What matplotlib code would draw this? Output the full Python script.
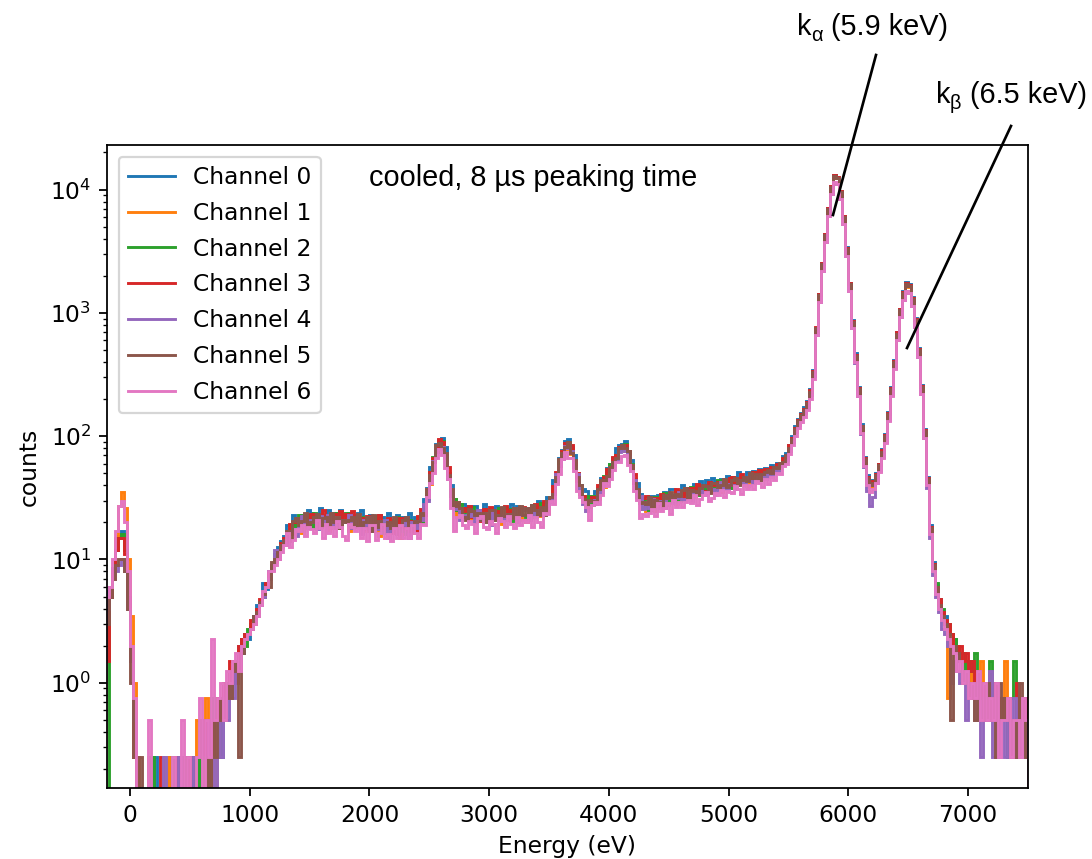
import matplotlib
matplotlib.use("Agg")
import matplotlib.pyplot as plt
import numpy as np
from matplotlib.lines import Line2D

# histogram binning (eV)
bin_start = -200
bin_width = 25

# counts per 25 eV bin, one row per 500 eV starting at -200 eV
ch0_counts = [
    5.5, 6, 8.5, 12, 15.5, 17, 13, 5.5, 1.75, 0.5, 0, 0, 0, 0, 0, 0, 0.25, 0, 0, 0,
    0, 0.25, 0, 0, 0, 0, 0.25, 0, 0, 0.25, 0, 0.5, 0, 0.25, 0.5, 0, 0.75, 0.5, 0.25, 1.0,
    0.75, 1.25, 1.0, 1.5, 2.0, 1.75, 2.5, 2.25, 3.0, 3.5, 4.25, 4.5, 6.5, 5.75, 8.0, 9.0, 11, 12.5, 14, 15.5,
    19, 17, 23, 21, 20, 23, 20, 25, 24, 21, 23, 26, 22, 21, 25, 20, 24, 23, 25, 22,
    21, 24, 23, 19, 24, 25, 21, 20, 23, 22, 18, 23, 22, 20, 24, 21, 19, 23, 20, 22,
    20.5, 24, 18.5, 22, 20.5, 21, 31, 38, 56, 66, 87, 93, 97, 81, 49, 40, 31, 25, 28, 28,
    27, 22, 27, 27, 24, 25, 28, 23, 24, 26, 27, 22, 25, 26, 23, 28, 25, 27, 23, 26,
    25, 26, 27.5, 25, 30, 26.5, 28, 32, 30, 44, 49, 66, 77, 91, 94, 82, 71, 46, 40, 37,
    36, 29, 31, 36, 38, 46, 46, 55, 59, 66, 80, 84, 86, 91, 76, 64, 45, 42, 34, 28,
    27, 33, 32.5, 32, 33.5, 30.5, 35, 30, 37, 37.5, 33, 36, 40, 36, 38, 36, 41, 38, 43.5, 39,
    44, 40, 46, 43, 40.5, 45, 40.5, 47.5, 46.5, 43, 46.5, 51.5, 46.5, 46, 51.5, 46, 52, 51, 54.5, 51.5,
    55, 52, 58, 56, 61, 60, 69, 73, 85, 100, 121, 139, 155, 171, 194, 240, 345, 760, 1420, 2550,
    4400, 7150, 10700, 13200, 12700, 9700, 6100, 3400, 1750, 880, 470, 250, 126, 68, 48, 42, 44, 50, 60, 78,
    104, 156, 250, 415, 700, 1080, 1500, 1780, 1700, 1340, 905, 515, 258, 114, 47, 19, 9.5, 6.25, 4.75, 3.75,
    3.5, 2.75, 2.5, 2.25, 2.0, 1.5, 1.75, 1.25, 1.5, 1.0, 1.25, 0.75, 1.0, 0.5, 0.75, 1.0, 0.5, 0.75, 0.25, 0.5,
    0.75, 0.25, 0.5, 0.5, 0.25, 0.75, 0.25, 0.5,
]

ch1_counts = [
    4, 5, 8, 15, 27, 35, 26, 10, 3.5, 1.0, 0.25, 0, 0, 0, 0.25, 0, 0, 0, 0, 0,
    0.25, 0, 0, 0.25, 0, 0, 0, 0.25, 0, 0, 0.5, 0.25, 0, 0.75, 0.25, 0.5, 0, 0.75, 0.5, 0.5,
    1.0, 0.75, 1.5, 1.25, 1.75, 2.0, 2.25, 2.5, 2.75, 3.25, 3.75, 4.5, 5.0, 6.0, 7.0, 8.5, 9.5, 11, 12.5, 14,
    15.5, 19, 16, 19.5, 18, 16.5, 22, 20, 23, 18, 21.5, 19.5, 22.5, 23, 17, 21, 20, 18, 21, 22,
    21, 17, 22, 21.5, 18.5, 19, 22, 17, 18, 20, 20.5, 15.5, 18.5, 19, 16, 21, 17, 19, 15, 18,
    17, 18, 19, 16.5, 22, 20, 25, 37, 41, 66, 74, 86, 79, 67, 49.5, 33, 31, 22, 24, 25,
    26, 20.5, 21.5, 23, 22, 24, 20, 23, 22, 21, 25, 22, 19.5, 24.5, 21.5, 23.5, 21, 26, 24, 21,
    20, 25, 24.5, 24, 25, 22.5, 26, 24, 32, 38, 42, 58, 76, 79, 83, 72, 62, 43.5, 39, 29.5,
    31.5, 26.5, 32.5, 30.5, 31, 40, 39, 50.5, 54, 57, 67, 79, 78.5, 76, 71.5, 52, 43.5, 33.5, 31.5, 25.5,
    24.5, 28.5, 28, 24.5, 31, 33, 28.5, 27.5, 32, 31, 28, 34.5, 34, 32, 37, 34, 32, 37.5, 34.5, 37,
    36.5, 41, 35, 39, 37, 35, 42, 40, 44, 38, 43, 41, 45.5, 47, 39.5, 45.5, 45, 43, 47.5, 49.5,
    46, 51, 48, 53, 52, 59, 58, 69, 76, 92, 112, 128, 144, 159, 180, 225, 325, 740, 1390, 2480,
    4280, 6980, 10500, 13000, 12500, 9450, 5950, 3280, 1690, 845, 445, 238, 118, 64, 45, 39, 41, 47, 57, 74,
    98, 147, 236, 394, 670, 1035, 1430, 1700, 1630, 1285, 870, 494, 246, 108, 44, 17.5, 8.75, 6.0, 4.25, 3.5,
    3.0, 0.75, 2.25, 2.0, 2.0, 1.75, 1.5, 1.25, 1.25, 1.0, 1.25, 0.75, 1.5, 0.75, 1.0, 0.5, 1.0, 0.5, 0.75, 0.5,
    1.5, 0.75, 0.25, 0.5, 0.5, 0.25, 0.5, 0.25,
]

ch2_counts = [
    0, 5, 8, 12, 15, 16, 12, 5, 1.5, 0.5, 0, 0, 0, 0, 0, 0.25, 0, 0, 0, 0,
    0, 0, 0.25, 0, 0, 0.25, 0, 0, 0.25, 0, 0, 0.25, 0.5, 0, 0.25, 0.75, 0.5, 0.25, 0.75, 0.5,
    1.0, 1.25, 1.5, 1.25, 1.75, 2.25, 2.0, 2.75, 3.0, 3.25, 4.0, 4.25, 5.0, 6.25, 7.5, 8.5, 10, 11.5, 13, 14.5,
    15, 17, 19.5, 17.5, 23, 19.5, 21, 23, 18, 24, 20.5, 22.5, 19.5, 21, 22, 20, 24, 18, 21, 23,
    24, 19, 20, 21.5, 20.5, 22, 18, 21, 20, 19, 22.5, 19.5, 16.5, 21, 18, 20, 17, 22, 20, 17,
    16, 21, 20, 19.5, 21, 20, 27, 31, 51, 68, 75, 88, 91, 68, 50, 33, 31, 25, 28, 23,
    26, 22.5, 26.5, 23, 21, 24, 20, 25, 24, 21, 23, 26, 22.5, 21.5, 25.5, 20.5, 25, 24, 26, 23,
    22, 25, 24.5, 22, 27, 28.5, 25, 26, 32, 37, 43, 63, 75, 83, 90, 78, 59, 50, 36, 33,
    30, 33, 27.5, 33, 34, 36, 47.5, 50, 59, 59.5, 71, 77, 85.5, 86, 68, 59, 44, 32.5, 31, 30.5,
    29, 25, 31.5, 32, 29, 30.5, 34.5, 29, 31, 33.5, 35.5, 30, 34, 35.5, 32.5, 39, 35, 37.5, 33.5, 37.5,
    36.5, 38.5, 40.5, 37, 44, 39, 41, 44, 38, 46.5, 41.5, 45.5, 42, 45, 47, 44.5, 51, 43.5, 48, 51.5,
    52, 49, 54, 52, 58, 57, 65, 68, 82, 95, 115, 132, 148, 163, 185, 230, 330, 750, 1400, 2500,
    4300, 7000, 10500, 13000, 12500, 9500, 6000, 3300, 1700, 850, 450, 240, 120, 65, 46, 40, 42, 48, 58, 75,
    100, 150, 240, 400, 680, 1050, 1450, 1720, 1650, 1300, 880, 500, 250, 110, 45, 18, 9.25, 6.5, 4.5, 4.0,
    3.25, 3.0, 2.5, 2.25, 2.0, 1.75, 1.75, 1.25, 1.5, 1.25, 1.75, 0.75, 1.0, 1.0, 0.75, 1.5, 0.5, 1.0, 0.25, 0.75,
    0.5, 0.25, 0.75, 1.5, 0.5, 0.25, 0.5, 0.5,
]

ch3_counts = [
    1.5, 5, 8, 12, 15, 15, 11, 5, 1.5, 0.25, 0, 0, 0, 0, 0, 0, 0, 0, 0.25, 0,
    0, 0, 0, 0.25, 0, 0, 0, 0, 0.25, 0.25, 0, 0, 0.25, 0.5, 0, 0.25, 0.5, 0.75, 0.5, 1.0,
    0.75, 1.5, 1.25, 1.0, 2.0, 2.25, 2.5, 2.5, 3.25, 3.0, 4.0, 4.75, 5.25, 6.5, 7.75, 9.0, 10.5, 12, 13.5, 15,
    13.5, 19.5, 20, 20, 21.5, 19, 22.5, 18.5, 23.5, 23.5, 20, 22, 25, 20.5, 21.5, 19.5, 23.5, 20.5, 24.5, 20.5,
    23.5, 20.5, 24.5, 21, 19, 21.5, 17.5, 22.5, 21.5, 18.5, 20, 23, 19, 17.5, 21.5, 16.5, 20.5, 19.5, 21.5, 18.5,
    17.5, 20.5, 19.5, 17, 22.5, 25.5, 25.5, 33, 51, 66, 76, 94, 90, 70, 56, 37, 27.5, 29, 24.5, 26,
    24.5, 27, 22, 24.5, 22.5, 20.5, 25.5, 23.5, 26.5, 21.5, 24.5, 22.5, 26, 27, 21, 25, 24.5, 22.5, 25.5, 26.5,
    25.5, 21.5, 27, 28, 24.5, 26.5, 30, 26, 30.5, 39.5, 51, 57, 76, 88, 85, 85, 62, 50, 34, 33,
    29.5, 30, 32, 30.5, 40, 40, 46.5, 54, 52.5, 68, 70.5, 82, 83, 84.5, 75.5, 58.5, 49, 32, 31, 31.5,
    32.5, 27, 28.5, 31.5, 31, 34, 29.5, 33.5, 33, 32.5, 37.5, 34.5, 31.5, 38, 35, 38, 34.5, 41, 39.5, 36,
    35, 42.5, 41.5, 40.5, 42.5, 39, 43.5, 38.5, 46, 46.5, 41.5, 45.5, 49.5, 45, 47, 44.5, 51, 47.5, 53.5, 49,
    54, 50, 56, 53, 59, 58, 66, 69, 84, 97, 117, 135, 151, 166, 189, 235, 337, 765, 1430, 2550,
    4390, 7140, 10700, 13250, 12750, 9690, 6120, 3370, 1735, 867, 459, 245, 122, 66, 47, 41, 43, 49, 59, 77,
    102, 153, 245, 408, 694, 1070, 1480, 1755, 1680, 1325, 898, 510, 255, 112, 46, 18.5, 9.25, 6.0, 4.75, 3.75,
    3.25, 3.0, 2.5, 2.0, 1.75, 2.0, 1.5, 1.75, 1.25, 1.5, 1.0, 1.25, 0.75, 1.0, 0.5, 0.75, 1.0, 0.5, 0.25, 0.75,
    0.5, 0.75, 0.25, 0.5, 1.0, 0.5, 0.25, 0.75,
]

ch4_counts = [
    4, 6, 7, 8, 9, 10, 8, 4, 1.5, 0.5, 0, 0, 0, 0, 0, 0, 0, 0, 0, 0.25,
    0, 0, 0, 0, 0.25, 0, 0, 0, 0, 0.25, 0, 0, 0.25, 0, 0.5, 0.25, 0, 0.5, 0.25, 0.75,
    0.5, 1.0, 0.75, 1.25, 1.5, 2.0, 2.25, 2.5, 2.75, 3.25, 3.5, 4.25, 5.0, 6.0, 7.0, 8.25, 12, 10, 12.5, 14,
    13, 17, 17.5, 15.5, 21, 22.5, 19, 18, 21, 20, 17.5, 22.5, 21.5, 19, 23, 20, 18, 22, 19, 21,
    20, 23, 18, 20.5, 18.5, 16, 21, 19, 22, 17, 19.5, 17.5, 20.5, 21, 15, 19, 18, 16, 19, 20,
    19, 15, 20, 20.5, 18, 21, 28, 30, 44, 63, 78, 79, 82, 68, 45, 37, 26.5, 25.5, 21, 23,
    22, 22.5, 23.5, 20, 25, 21, 22, 24, 19, 25, 21, 23, 20.5, 22.5, 23.5, 21.5, 26, 20, 23, 25,
    26, 21, 22.5, 25, 24, 26, 23, 27.5, 29.5, 34, 49, 57, 65, 83, 80, 76, 56, 49, 36, 28,
    24.5, 30, 30, 30.5, 34.5, 35.5, 44, 43.5, 55, 61.5, 64, 74, 83, 76.5, 68.5, 52.5, 44.5, 32, 32.5, 25.5,
    29, 26, 31, 28, 26, 30, 26, 32.5, 31.5, 28.5, 31.5, 35.5, 31, 30.5, 35.5, 30, 35.5, 34.5, 37.5, 34.5,
    33.5, 38, 37, 33.5, 40.5, 42.5, 37.5, 37, 41, 40.5, 37, 44.5, 43.5, 41.5, 47, 43.5, 42, 47.5, 44.5, 48,
    45, 49, 47, 53, 51, 57, 58, 64, 76, 90, 108, 124, 139, 153, 173, 215, 305, 660, 1230, 2200,
    3780, 6160, 9240, 11400, 11000, 8360, 5280, 2900, 1500, 750, 395, 210, 104, 56, 36, 27, 32, 42, 52, 68,
    90, 134, 214, 355, 600, 925, 1275, 1510, 1450, 1145, 775, 440, 220, 96, 38, 15, 7.5, 5.0, 3.75, 2.75,
    2.5, 2.0, 1.0, 1.5, 1.25, 1.0, 1.25, 0.5, 0.75, 1.0, 0.5, 0.75, 0.25, 0.5, 0.75, 1.25, 0.25, 0.5, 0.25, 0.5,
    0.25, 0.5, 0.25, 0.75, 0.25, 0.5, 0.25, 0.5,
]

ch5_counts = [
    3, 5, 7, 9, 10, 10, 8, 4, 1, 0.25, 0, 0.25, 0, 0, 0, 0, 0, 0, 0, 0,
    0, 0, 0, 0, 0, 0, 0.25, 0, 0, 0, 0.25, 0.5, 0, 0.25, 0, 0.5, 0.25, 0.5, 0.75, 0.5,
    1.0, 0.75, 1.25, 1.5, 0.25, 1.75, 2.25, 2.5, 2.75, 3.5, 3.75, 4.5, 5.25, 6.0, 6.0, 9.5, 10, 11.5, 13, 14.5,
    17, 14, 20.5, 21.5, 19, 20.5, 24, 19, 20, 22, 23.5, 18.5, 21.5, 22, 19, 24, 20, 22, 18, 21,
    20, 21, 22, 18.5, 23.5, 19, 20, 22, 17, 23, 18.5, 20.5, 17.5, 19, 20, 18, 22, 16, 19, 21,
    22, 17, 18, 20.5, 20, 24, 23, 37, 48, 62, 85, 88, 80, 73, 48, 37, 27, 29, 26, 22,
    21, 25.5, 24.5, 23, 24, 21, 24, 20, 25, 25, 21, 23, 26.5, 22.5, 23.5, 21.5, 26, 23, 27, 23,
    26, 23, 27.5, 25, 23, 26.5, 23, 30, 32, 34, 47, 65, 73, 81, 89, 73, 64, 47, 40, 31,
    27.5, 30.5, 30, 28, 37.5, 44, 43.5, 47.5, 56.5, 62, 66, 80.5, 84.5, 80.5, 76, 58, 41.5, 37.5, 28.5, 29.5,
    28, 32, 26.5, 30.5, 29, 27, 33.5, 31.5, 35.5, 30, 34, 32.5, 36.5, 38, 31.5, 36.5, 36, 34, 38, 40,
    39.5, 34.5, 41.5, 42, 38.5, 40.5, 45, 39, 40.5, 44, 45.5, 40, 44.5, 46.5, 43, 50, 45.5, 49, 44, 49,
    51, 53, 50, 56, 55, 61, 62, 70, 80, 95, 115, 132, 148, 163, 185, 230, 330, 750, 1400, 2500,
    4300, 7000, 10500, 13000, 12500, 9500, 6000, 3300, 1700, 850, 450, 240, 120, 65, 46, 40, 42, 48, 58, 75,
    100, 150, 240, 400, 680, 1050, 1450, 1720, 1650, 1300, 880, 500, 250, 110, 45, 18, 9.0, 6.0, 4.25, 3.5,
    3.0, 2.5, 0.5, 2.0, 1.75, 1.5, 1.0, 1.25, 0.75, 1.0, 0.5, 1.0, 0.75, 0.5, 1.0, 0.5, 0.75, 0.25, 1.0, 0.5,
    0.75, 0.5, 0.25, 0.5, 0.25, 1.0, 0.5, 0.25,
]

ch6_counts = [
    5, 6, 10, 17, 27, 30, 20, 8, 2.0, 0.75, 0, 0, 0, 0, 0.5, 0, 0, 0, 0, 0,
    0, 0, 0.25, 0, 0, 0.5, 0, 0.25, 0, 0, 0.25, 0.75, 0, 0.5, 0.25, 2.25, 0.5, 0.75, 1.0, 0.5,
    1.25, 1.0, 1.5, 1.75, 1.25, 2.0, 2.25, 2.5, 2.75, 3.0, 3.5, 4.25, 5.5, 6.0, 8.0, 8.0, 9.0, 10, 11.5, 13,
    16.5, 12.5, 14.5, 17.5, 17, 19, 15.5, 18.5, 17.5, 16.5, 21, 18, 15, 19.5, 16.5, 18.5, 15.5, 20.5, 18.5, 15.5,
    14.5, 19.5, 18.5, 17, 18, 15, 18, 14, 19, 19, 14.5, 16.5, 19.5, 15, 16, 14, 18, 15, 19, 15,
    18, 15, 19, 16.5, 15, 19.5, 19, 32, 42, 50, 66, 79, 70, 55, 45, 26, 17, 22, 23, 19,
    18, 20.5, 19.5, 16.5, 21.5, 22.5, 18.5, 17.5, 20.5, 19.5, 16.5, 21.5, 20.5, 18.5, 22.5, 19.5, 18, 22, 19, 21,
    20, 23, 18.5, 22, 20, 18.5, 24, 23.5, 30, 28, 41, 49, 65, 75, 67, 67, 52, 36, 32, 29,
    26.5, 21, 27.5, 29.5, 28, 33.5, 41.5, 39.5, 45, 53.5, 61.5, 62, 69.5, 70, 58, 52.5, 36, 30.5, 21.5, 23.5,
    22.5, 24, 25.5, 22.5, 28.5, 24.5, 26, 28.5, 23.5, 30.5, 26.5, 29, 26.5, 29, 30.5, 28.5, 33.5, 27.5, 31, 33.5,
    35.5, 30, 31.5, 34.5, 33.5, 36.5, 32, 36, 35.5, 34.5, 39.5, 37, 34, 40.5, 37, 40, 37, 43.5, 41.5, 38.5,
    45, 41, 47, 44, 50, 49, 57, 59, 72, 84, 101, 116, 130, 143, 163, 202, 290, 660, 1230, 2200,
    3780, 6160, 9240, 11450, 11000, 8360, 5280, 2900, 1500, 750, 396, 211, 106, 57, 40, 35, 37, 42, 51, 66,
    88, 132, 211, 352, 600, 925, 1275, 1515, 1450, 1145, 775, 440, 220, 97, 40, 16, 8.0, 5.25, 4.0, 3.25,
    2.75, 2.25, 2.0, 1.75, 1.25, 1.5, 1.0, 1.25, 0.75, 1.0, 0.75, 1.25, 0.5, 1.0, 0.5, 0.75, 0.5, 1.0, 0.25, 0.5,
    0.5, 0.75, 0.25, 0.5, 0.5, 0.25, 0.75, 0.5,
]

channels = [ch0_counts, ch1_counts, ch2_counts, ch3_counts,
            ch4_counts, ch5_counts, ch6_counts]
labels = [f"Channel {i}" for i in range(len(channels))]

plt.rcParams["font.size"] = 10.5

W, H, DPI = 1092, 859, 160
fig = plt.figure(figsize=(W / DPI, H / DPI), dpi=DPI)
ax = fig.add_axes([107 / W, 71 / H, 921 / W, 643 / H])

for counts, label in zip(channels, labels):
    vals = np.array(counts, dtype=float)
    edges = bin_start + bin_width * np.arange(len(vals) + 1)
    ax.stairs(vals, edges, label=label, linewidth=1.3)

ax.set_yscale("log")
ax.set_xlim(-192, 7502)
ax.set_ylim(0.14, 2.3e4)
ax.set_xlabel("Energy (eV)")
ax.set_ylabel("counts")
ax.legend(loc="upper left", labelspacing=0.55)

arial = "Liberation Sans"
ax.text(0.2845, 0.936, "cooled, 8 µs peaking time", transform=ax.transAxes,
        family=arial, fontsize=13, va="baseline")


def px(x, y):
    # pixel position -> figure fraction
    return x / W, 1 - y / H


def peak_label(x, y, sub, rest):
    fig.text(*px(x, y), "k", family=arial, fontsize=13, va="baseline")
    fig.text(*px(x + 14, y + 6), sub, family=arial, fontsize=9, va="baseline")
    fig.text(*px(x + 34, y), rest, family=arial, fontsize=13, va="baseline")


peak_label(797, 35, "α", "(5.9 keV)")
peak_label(936, 103, "β", "(6.5 keV)")

for (x0, y0), (x1, y1) in [((876, 55), (833, 215)), ((1011, 126), (907, 348))]:
    fx0, fy0 = px(x0, y0)
    fx1, fy1 = px(x1, y1)
    fig.add_artist(Line2D([fx0, fx1], [fy0, fy1], color="black", linewidth=1.2))

fig.savefig("out.png", dpi=DPI)
